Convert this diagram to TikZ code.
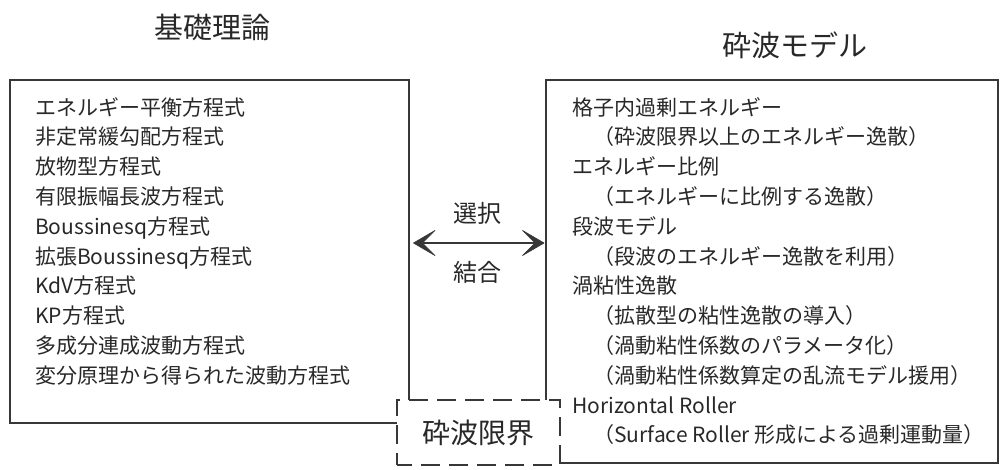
\documentclass[tikz,border=0pt]{standalone}
\usepackage{fontspec}
\setmainfont{Noto Sans CJK JP}
\usetikzlibrary{arrows.meta}
\definecolor{ink}{RGB}{40,40,40}
\definecolor{edge}{RGB}{55,55,55}
\tikzset{
  box/.style={draw=edge, line width=2.3pt, inner sep=0pt},
  dbox/.style={draw=edge, line width=2.3pt, fill=white, inner sep=0pt, dash pattern=on 19pt off 9pt, dash phase=4pt},
  item/.style={anchor=base west, inner sep=0pt, text=ink, font=\fontsize{21}{25}\selectfont},
  title/.style={inner sep=0pt, text=ink, font=\fontsize{29}{33}\selectfont},
  lab/.style={inner sep=0pt, text=ink, font=\fontsize{24}{28}\selectfont},
  mytip/.tip={Stealth[length=24pt,width=28pt,inset=14pt,line width=0.6pt,round]},
  link/.style={draw=edge, line width=2.5pt, {mytip}-{mytip}}
}
\begin{document}
\begin{tikzpicture}[x=1pt,y=-1pt]
\useasboundingbox (0,0) rectangle (1001,469);
% titles
\node[title] (t1) at (212,27) {基礎理論};
\node[title] (t2) at (795,45) {砕波モデル};
% boxes
\node[box, minimum width=399pt, minimum height=343pt] (L) at (209.5,251.5) {};
\node[box, minimum width=452pt, minimum height=383pt] (R) at (772,271.5) {};
\node[dbox, minimum width=163pt, minimum height=65pt, font=\fontsize{28}{32}\selectfont, text=ink] (B) at (478.5,432.5) {砕波限界};
% left list
\foreach \t [count=\i] in {エネルギー平衡方程式,非定常緩勾配方程式,放物型方程式,有限振幅長波方程式,Boussinesq方程式,拡張Boussinesq方程式,KdV方程式,KP方程式,多成分連成波動方程式,変分原理から得られた波動方程式}
  \node[item] (l\i) at (35,{85.2+29.8*\i}) {\t};
% right list
\foreach \t [count=\i] in {格子内過剰エネルギー,　（砕波限界以上のエネルギー逸散）,エネルギー比例,　（エネルギーに比例する逸散）,段波モデル,　（段波のエネルギー逸散を利用）,渦粘性逸散,　（拡散型の粘性逸散の導入）,　（渦動粘性係数のパラメータ化）,　（渦動粘性係数算定の乱流モデル援用）,Horizontal Roller,　（Surface Roller 形成による過剰運動量）}
  \node[item] (r\i) at (572,{85.2+29.8*\i}) {\t};
% arrow
\coordinate (ay) at (0,243);
\draw[link, shorten <=3pt, shorten >=0.5pt] (L.east |- ay) -- (R.west |- ay);
\node[lab] (sel) at (477,213) {選択};
\node[lab] (com) at (477,272) {結合};
\end{tikzpicture}
\end{document}
